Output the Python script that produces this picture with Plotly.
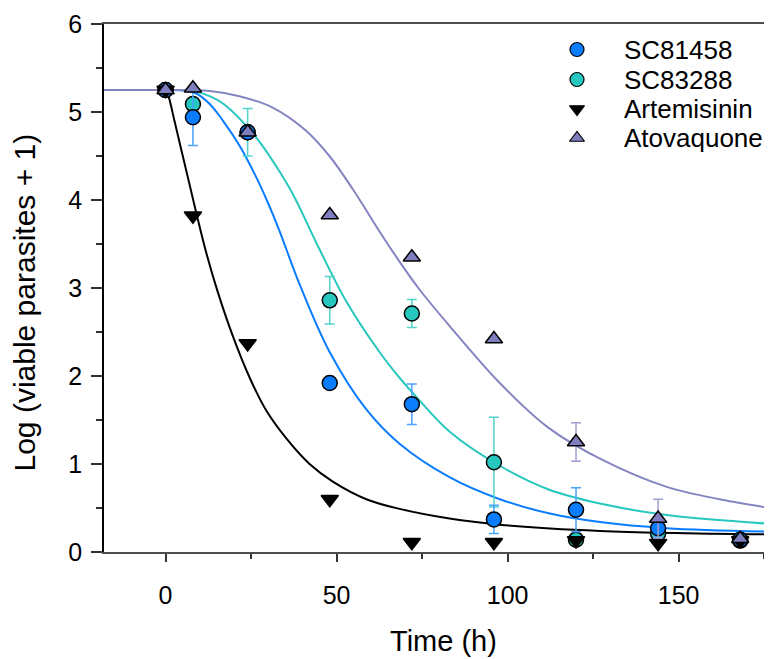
import plotly.graph_objects as go

# ---------------- data ----------------
time_h = [0, 8, 24, 48, 72, 96, 120, 144, 168]

sc81458 = [5.25, 4.94, 4.77, 1.92, 1.68, 0.37, 0.48, 0.27, 0.14]
sc81458_err = [0, 0.32, 0, 0, 0.23, 0.16, 0.25, 0.10, 0]

sc83288 = [5.25, 5.09, 4.77, 2.86, 2.71, 1.02, 0.14, 0.21, 0.13]
sc83288_err = [0, 0.05, 0.27, 0.27, 0.16, 0.51, 0, 0.08, 0]

artemisinin = [5.25, 3.82, 2.37, 0.60, 0.11, 0.11, 0.13, 0.10, 0.13]

atovaquone = [5.25, 5.27, 4.77, 3.83, 3.35, 2.42, 1.25, 0.38, 0.15]
atovaquone_err = [0, 0, 0, 0, 0, 0, 0.22, 0.22, 0]

# fitted curves: points (t >= 0); flat 5.25 before t = 0
start_level = 5.25
x_left = -18

fit_art_t = [0, 0.7, 2.6, 4.6, 6.5, 9, 11.9, 15.3, 19.7, 24.6, 29.4, 35.3,
             42.1, 48.9, 58.7, 68.4, 83, 97.7, 127, 177]
fit_art_v = [5.25, 5.2, 4.9, 4.57, 4.26, 3.85, 3.4, 2.95, 2.45, 1.98, 1.61, 1.29,
             1.0, 0.8, 0.6, 0.49, 0.38, 0.31, 0.24, 0.2]

fit_81458_t = [0, 5, 9, 12.9, 16.8, 21.6, 26.5, 29.8, 33.3, 39.2, 48, 58.7,
               68.4, 83, 97.7, 112, 127, 146.5, 177]
fit_81458_v = [5.25, 5.245, 5.21, 5.09, 4.9, 4.62, 4.26, 3.98, 3.65, 3.04, 2.27, 1.62,
               1.23, 0.85, 0.6, 0.44, 0.34, 0.27, 0.23]

fit_83288_t = [0, 8, 12.9, 17, 26.5, 32.4, 37.3, 45, 52.8, 62.6, 68.4, 74.3,
               83, 97.7, 112, 127, 146.5, 177]
fit_83288_v = [5.25, 5.24, 5.18, 5.09, 4.71, 4.38, 4.06, 3.44, 2.85, 2.27, 1.98, 1.72,
               1.37, 0.98, 0.71, 0.55, 0.42, 0.32]

fit_atov_t = [0, 12.9, 21.6, 31.3, 41, 47.9, 54.8, 62.6, 68.4, 74.3, 83, 97.7,
              112, 127, 146.5, 166, 177]
fit_atov_v = [5.25, 5.24, 5.18, 5.05, 4.79, 4.5, 4.12, 3.64, 3.3, 2.98, 2.57, 1.92,
              1.41, 1.06, 0.74, 0.57, 0.5]

series_names = ["SC81458", "SC83288", "Artemisinin", "Atovaquone"]
x_tickvals = [0, 50, 100, 150]
y_tickvals = [0, 1, 2, 3, 4, 5, 6]

# ---------------- style ----------------
BLUE = "#0a7dff"
TEAL = "#26c7be"
BLACK = "#000000"
LAV = "#7f7fbf"
FONT = "Liberation Sans, Arial, sans-serif"

OFF = 8                      # page body margin of the browser
W, H = 772 - OFF, 659 - OFF
ML, MR, MT, MB = 104 - OFF, 0, 24 - OFF, 107
PW, PH = W - ML - MR, H - MT - MB


def px_x(x):   # reference pixel -> paper
    return (x - OFF - ML) / PW


def px_y(y):
    return 1 - (y - OFF - MT) / PH


fig = go.Figure()

# curves
for t, v, c in [(fit_art_t, fit_art_v, BLACK), (fit_81458_t, fit_81458_v, BLUE),
                (fit_83288_t, fit_83288_v, TEAL), (fit_atov_t, fit_atov_v, "#8585c2")]:
    fig.add_trace(go.Scatter(x=[x_left, t[0]], y=[start_level, v[0]], mode="lines",
                             showlegend=False, hoverinfo="skip",
                             line=dict(color=c, width=2)))
    fig.add_trace(go.Scatter(x=t, y=v, mode="lines", showlegend=False, hoverinfo="skip",
                             line=dict(color=c, width=2, shape="spline", smoothing=1.0)))


def pts(y, err, sym, fill, size, errcol):
    kw = dict(x=time_h, y=y, mode="markers", showlegend=False,
              marker=dict(symbol=sym, size=size, color=fill,
                          line=dict(color="black", width=1.5)))
    if err is not None:
        kw["error_y"] = dict(type="data", array=err, visible=True, color=errcol,
                             thickness=1.5, width=5)
    return go.Scatter(**kw)


fig.add_trace(pts(sc83288, sc83288_err, "circle", TEAL, 15, "#52d4cb"))
fig.add_trace(pts(sc81458, sc81458_err, "circle", BLUE, 15, "#4aa3ff"))
fig.add_trace(pts(artemisinin, None, "triangle-down", BLACK, 15, None))
fig.add_trace(pts(atovaquone, atovaquone_err, "triangle-up", LAV, 15, "#a0a0d0"))

# ---------------- manual legend (pixel overlay axes) ----------------
leg_rows = [49.5, 79.5, 109, 138]
leg_sym = ["circle", "circle", "triangle-down", "triangle-up"]
leg_col = [BLUE, TEAL, BLACK, LAV]
leg_size = [14, 14, 13, 13]
for i in range(4):
    fig.add_trace(go.Scatter(x=[577 - OFF - ML], y=[leg_rows[i] - OFF - MT],
                             xaxis="x2", yaxis="y2",
                             mode="markers", showlegend=False, hoverinfo="skip",
                             marker=dict(symbol=leg_sym[i], size=leg_size[i], color=leg_col[i],
                                         line=dict(color="black", width=1.2))))
    fig.add_annotation(text=series_names[i], xref="paper", yref="paper",
                       x=px_x(622), y=px_y(leg_rows[i]),
                       xanchor="left", yanchor="middle", showarrow=False,
                       font=dict(family=FONT, size=26, color="black"))

# axis titles
fig.add_annotation(text="Time (h)", xref="paper", yref="paper",
                   x=px_x(443.5), y=px_y(641),
                   xanchor="center", yanchor="middle", showarrow=False,
                   font=dict(family=FONT, size=29, color="black"))
fig.add_annotation(text="Log (viable parasites + 1)", xref="paper", yref="paper",
                   x=px_x(24), y=px_y(302.5), textangle=-90,
                   xanchor="center", yanchor="middle", showarrow=False,
                   font=dict(family=FONT, size=30, color="black"))

fig.update_layout(
    width=W, height=H,
    margin=dict(l=ML, r=MR, t=MT, b=MB, pad=0),
    paper_bgcolor="white", plot_bgcolor="white",
    font=dict(family=FONT, size=25, color="black"),
    showlegend=False,
    xaxis=dict(range=[-18, 177.3], tickvals=x_tickvals, ticks="outside", ticklen=8,
               tickwidth=1.5, tickcolor="#333", showgrid=False, zeroline=False,
               showline=True, linecolor="#4d4d4d", linewidth=1.5, mirror=True,
               ticklabelstandoff=12, tickfont=dict(size=25),
               minor=dict(dtick=25, tick0=0, ticks="outside", ticklen=5,
                          tickwidth=1.5, tickcolor="#333", showgrid=False)),
    yaxis=dict(range=[0, 6], tickvals=y_tickvals, ticks="outside", ticklen=11,
               tickwidth=1.5, tickcolor="#333", showgrid=False, zeroline=False,
               showline=True, linecolor="black", linewidth=1.5,
               ticklabelstandoff=4, tickfont=dict(size=25),
               minor=dict(dtick=0.5, tick0=0, ticks="outside", ticklen=6,
                          tickwidth=1.5, tickcolor="#333", showgrid=False)),
    xaxis2=dict(overlaying="x", range=[0, PW], visible=False, fixedrange=True),
    yaxis2=dict(overlaying="y", range=[PH, 0], visible=False, fixedrange=True),
)

fig.write_html("out.html")
